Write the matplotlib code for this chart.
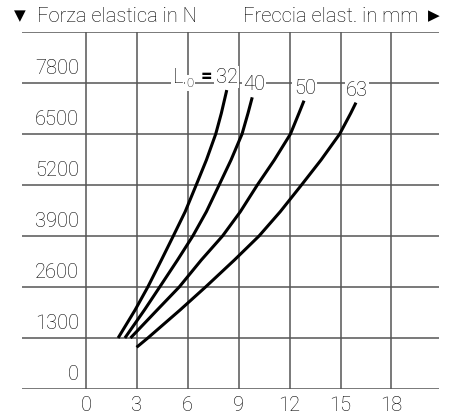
import matplotlib
matplotlib.use('Agg')
import matplotlib.pyplot as plt

plt.rcParams['font.family'] = ['Roboto', 'DejaVu Sans']
plt.rcParams['font.weight'] = 'light'

# valori
x_ticks = [0, 3, 6, 9, 12, 15, 18]
y_ticks = [0, 1300, 2600, 3900, 5200, 6500, 7800]
y_top = 9100

curve_labels = ['32', '40', '50', '63']
freccia_32 = [1.9, 2.9, 3.65, 4.45, 5.15, 5.85, 6.5, 7.1, 7.65, 7.98, 8.3]
forza_32 = [1300, 2014, 2600, 3288, 3900, 4520, 5200, 5837, 6500, 7028, 7620]
freccia_40 = [2.3, 3.45, 4.35, 5.4, 6.3, 7.1, 7.85, 8.55, 9.2, 9.55, 9.8]
forza_40 = [1300, 2014, 2600, 3288, 3900, 4520, 5200, 5837, 6500, 7028, 7435]
freccia_50 = [2.63, 4.2, 5.5, 6.8, 8.05, 9.1, 10.1, 11.1, 12.05, 12.55, 12.85]
forza_50 = [1300, 2014, 2600, 3288, 3900, 4520, 5200, 5837, 6500, 7028, 7350]
freccia_63 = [2.99, 3.65, 5.55, 7.05, 8.75, 10.2, 11.45, 12.7, 13.85, 14.95, 15.6, 15.91]
forza_63 = [1063, 1300, 2014, 2600, 3288, 3900, 4520, 5200, 5837, 6500, 7028, 7300]

fig = plt.figure(figsize=(4.49, 4.17), dpi=100)
ax = fig.add_axes([22 / 449, 28 / 417, 417 / 449, 357 / 417])
ax.set_xlim(-3.76, 20.8)
ax.set_ylim(0, y_top)
ax.axis('off')

grid_col = '#555555'
for y in y_ticks + [y_top]:
    ax.axhline(y, color=grid_col, lw=1.1, zorder=1)
for x in x_ticks:
    ax.plot([x, x], [0, y_top], color=grid_col, lw=1.1, zorder=1)

fs = 14.5
# etichette assi
for y in y_ticks:
    ax.text(-0.4, y + 360, str(y), ha='right', va='center', fontsize=fs)
for x in x_ticks:
    ax.text(x, -420, str(x), ha='center', va='center', fontsize=fs, clip_on=False)

# curve
curve = [(freccia_32, forza_32), (freccia_40, forza_40),
         (freccia_50, forza_50), (freccia_63, forza_63)]
for xs, ys in curve:
    ax.plot(xs, ys, color='black', lw=2.2, zorder=3, solid_capstyle='butt',
            solid_joinstyle='round')

box = dict(facecolor='white', edgecolor='none', pad=1)
ax.text(5.42, 7950, 'L', ha='center', va='center', fontsize=fs, bbox=box, zorder=4)
ax.text(6.15, 7790, '0', ha='center', va='center', fontsize=9.5, bbox=box, zorder=4)
ax.text(7.1, 7960, '=', ha='center', va='center', fontsize=fs, fontweight='bold', zorder=4)
ax.text(8.3, 7950, curve_labels[0], ha='center', va='center', fontsize=fs, bbox=box, zorder=4)
ax.text(9.9, 7750, curve_labels[1], ha='center', va='center', fontsize=fs, bbox=box, zorder=4)
ax.text(12.9, 7670, curve_labels[2], ha='center', va='center', fontsize=fs, bbox=box, zorder=4)
ax.text(15.97, 7620, curve_labels[3], ha='center', va='center', fontsize=fs, bbox=box, zorder=4)

# titoli
ty = 1 - 16 / 417
fig.text(14 / 449, ty, '▼', ha='left', va='center', fontsize=11,
         family='DejaVu Sans', fontweight='normal')
fig.text(37 / 449, ty, 'Forza elastica in N', ha='left', va='center', fontsize=fs)
fig.text(418 / 449, ty, 'Freccia elast. in mm', ha='right', va='center', fontsize=fs)
fig.text(440 / 449, ty, '▶', ha='right', va='center', fontsize=11,
         family='DejaVu Sans', fontweight='normal')

fig.savefig('out.png', dpi=100)
